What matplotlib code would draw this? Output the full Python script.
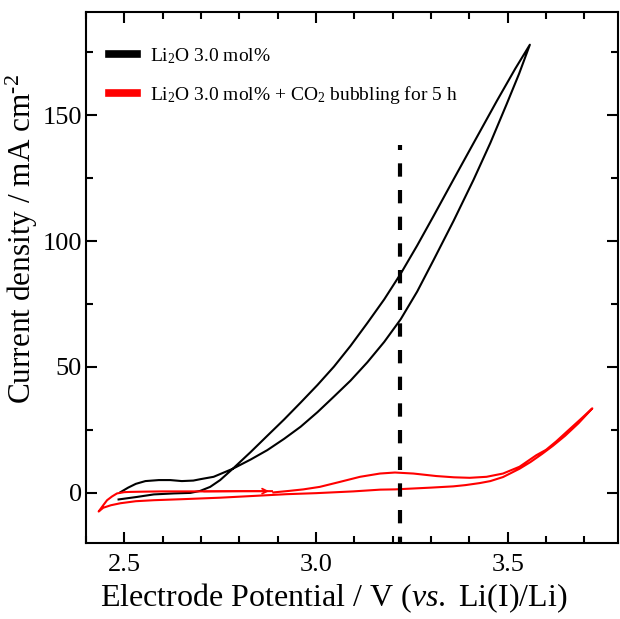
import numpy as np
import matplotlib
matplotlib.use("Agg")
from matplotlib import pyplot as plt
from matplotlib.ticker import MultipleLocator

plt.rcParams['font.family'] = ['Liberation Serif', 'DejaVu Serif']
plt.rcParams['mathtext.fontset'] = 'custom'
plt.rcParams['mathtext.rm'] = 'Liberation Serif'
plt.rcParams['mathtext.it'] = 'Liberation Serif:italic'

# Li2O 3.0 mol% : anodic sweep, then the return sweep
black_fwd_x = [2.485, 2.533, 2.577, 2.629, 2.672, 2.698, 2.724, 2.750, 2.783, 2.830,
               2.873, 2.917, 2.960, 3.004, 3.047, 3.090, 3.134, 3.178, 3.221, 3.264,
               3.307, 3.359, 3.410, 3.472, 3.520, 3.558]
black_fwd_y = [-2.7, -1.7, -0.7, -0.3, -0.1, 0.7, 2.3, 5.0, 9.5, 16.2,
               22.6, 29.1, 35.8, 42.8, 50.1, 58.3, 67.4, 76.8, 87.0, 98.2,
               110.0, 124.5, 138.6, 155.7, 168.5, 178.0]
black_rev_x = [3.558, 3.530, 3.498, 3.455, 3.411, 3.359, 3.307, 3.264, 3.221, 3.178,
               3.134, 3.090, 3.047, 3.004, 2.960, 2.917, 2.873, 2.830, 2.783, 2.733,
               2.700, 2.680, 2.650, 2.620, 2.590, 2.555, 2.530, 2.510, 2.490]
black_rev_y = [178.0, 166.5, 154.6, 139.0, 124.3, 108.0, 92.5, 79.9, 68.9, 59.9,
               51.8, 44.5, 38.2, 32.0, 26.2, 21.4, 16.9, 13.2, 9.5, 6.3,
               5.4, 4.8, 4.6, 5.0, 5.0, 4.6, 3.5, 2.0, 0.2]

# Li2O 3.0 mol% + CO2 bubbling for 5 h
red_fwd_x = [2.889, 2.930, 2.967, 3.010, 3.063, 3.115, 3.167, 3.206, 3.254, 3.314,
             3.360, 3.401, 3.445, 3.488, 3.531, 3.575, 3.600, 3.627, 3.655, 3.689, 3.721]
red_fwd_y = [0.1, 0.7, 1.3, 2.3, 4.3, 6.3, 7.6, 8.0, 7.6, 6.6,
             6.1, 5.9, 6.3, 7.6, 10.3, 14.9, 17.0, 20.4, 24.3, 29.0, 33.5]
red_rev_x = [3.721, 3.685, 3.650, 3.618, 3.590, 3.560, 3.531, 3.488, 3.455, 3.427,
             3.390, 3.358, 3.300, 3.206, 3.168, 3.097, 3.000, 2.924, 2.850, 2.750,
             2.650, 2.577, 2.530, 2.490, 2.465, 2.445, 2.433]
red_rev_y = [33.5, 27.6, 22.6, 18.6, 15.4, 12.2, 9.5, 6.2, 4.6, 3.8,
             3.0, 2.5, 2.0, 1.3, 1.2, 0.5, -0.2, -0.6, -1.2, -2.0,
             -2.6, -3.0, -3.4, -4.2, -5.0, -6.0, -7.5]
red_ret_x = [2.433, 2.445, 2.455, 2.468, 2.481, 2.500, 2.516, 2.550, 2.600, 2.700, 2.800, 2.885]
red_ret_y = [-7.5, -5.0, -3.0, -1.5, -0.3, 0.2, 0.3, 0.4, 0.5, 0.5, 0.6, 0.6]

marker_potential = 3.22
marker_top = 138

labels = ["Li$_2$O 3.0 mol%", "Li$_2$O 3.0 mol% + CO$_2$ bubbling for 5 h"]

fig = plt.figure(figsize=(6.2, 6.19), dpi=100)
ax = fig.add_axes([0.1387, 0.1228, 0.8581, 0.8578])

ax.plot(black_fwd_x + black_rev_x, black_fwd_y + black_rev_y, color='black', lw=1.5, label=labels[0])
ax.plot(red_fwd_x + red_rev_x + red_ret_x, red_fwd_y + red_rev_y + red_ret_y,
        color='#ff0000', lw=1.5, label=labels[1])
ax.annotate("", xy=(red_ret_x[-1], red_ret_y[-1]), xytext=(red_ret_x[-3], red_ret_y[-3]),
            arrowprops=dict(arrowstyle='->', color='#ff0000', lw=1.3, mutation_scale=9))

# dashed marker, drawn from the top down
ax.plot([marker_potential, marker_potential], [marker_top, -20], color='black', lw=3,
        linestyle=(2.0, (3.2, 3.2)))

ax.set_xlim(2.4, 3.788)
ax.set_ylim(-20, 191)
ax.xaxis.set_major_locator(MultipleLocator(0.5))
ax.xaxis.set_minor_locator(MultipleLocator(0.1))
ax.yaxis.set_major_locator(MultipleLocator(50))
ax.yaxis.set_minor_locator(MultipleLocator(25))
ax.tick_params(which='both', direction='in', top=True, right=True, width=1.5, labelsize=19)
ax.tick_params(which='major', length=8)
ax.tick_params(which='minor', length=5)
ax.tick_params(axis='x', which='major', pad=8)
ax.tick_params(axis='y', which='major', pad=3)
for s in ax.spines.values():
    s.set_linewidth(1.5)

ax.set_xlabel(r"Electrode Potential / V ($\mathit{vs.}$ Li(I)/Li)", fontsize=23)
ax.set_ylabel(r"Current density / mA cm$^{\text{-}2}$", fontsize=22.5)
ax.xaxis.set_label_coords(0.465, -0.073)
ax.yaxis.set_label_coords(-0.086, 0.573)

leg = ax.legend(loc='upper left', bbox_to_anchor=(0.043, 0.936), frameon=False, fontsize=14,
                borderpad=0, borderaxespad=0, handlelength=1.45, handletextpad=0.65,
                labelspacing=0.95)
for h in leg.get_lines():
    h.set_linewidth(5.5)

fig.savefig("out.png", dpi=100)
